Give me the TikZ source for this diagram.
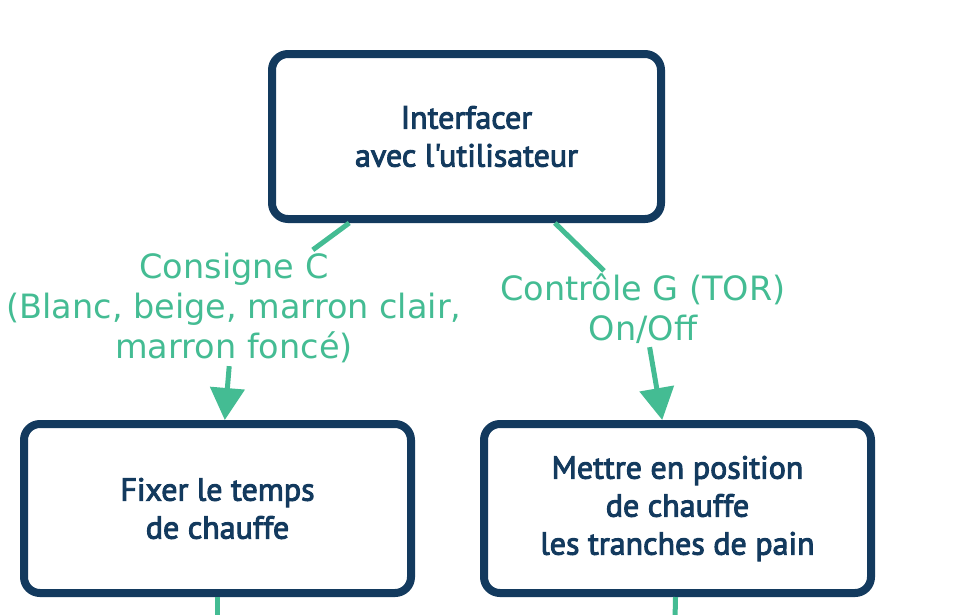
\documentclass[tikz,border=0pt]{standalone}
\usepackage{fontspec}
\setmainfont{DejaVu Sans}
\newfontfamily\blocfont[RawFeature={embolden=3}]{PT Sans}
\usetikzlibrary{arrows.meta}
\definecolor{navy}{HTML}{133A5E}
\definecolor{menthe}{HTML}{44BC93}

\begin{document}
\begin{tikzpicture}[x=1pt, y=-1pt,
    fonction/.style={draw=navy, line width=8pt, rounded corners=16pt, minimum width=387pt, minimum height=169pt, align=center, text=navy, font=\blocfont\fontsize{32}{38}\selectfont},
    flux/.style={align=center, text=menthe, inner sep=3pt, font=\fontsize{33.5}{40}\selectfont},
    lien/.style={draw=menthe, line width=5pt},
    fleche/.style={lien, -{Triangle[width=34pt, length=32pt]}}]
    \useasboundingbox (0,0) rectangle (980,614);

    % Draw the function blocks
    \node[fonction, minimum width=389pt, minimum height=165pt] (interface) at (466.5,136.5) {Interfacer\\avec l'utilisateur};
    \node[fonction] (fixer) at (217.5,508.5) {Fixer le temps\\de chauffe};
    \node[fonction] (position) at (677.5,508.5) {Mettre en position\\de chauffe\\les tranches de pain};

    % Provide the flows
    \node[flux] (consigne) at (234,308) {Consigne C\\(Blanc, beige, marron clair,\\marron foncé)};
    \node[flux] (controle) at (643,309) {Contrôle G (TOR)\\On/Off};

    % Outgoing flows, cut by the page
    \coordinate (fixerbas) at (217.5,620);
    \coordinate (positionbas) at (675,620);

    % Draw the connections
    \draw[lien] (interface) -- (consigne);
    \draw[fleche] (consigne) -- (fixer);
    \draw[lien] (interface) -- (controle);
    \draw[fleche] (controle) -- (position);
    \draw[lien] (fixer) -- (fixerbas);
    \draw[lien] (position) -- (positionbas);
\end{tikzpicture}
\end{document}
